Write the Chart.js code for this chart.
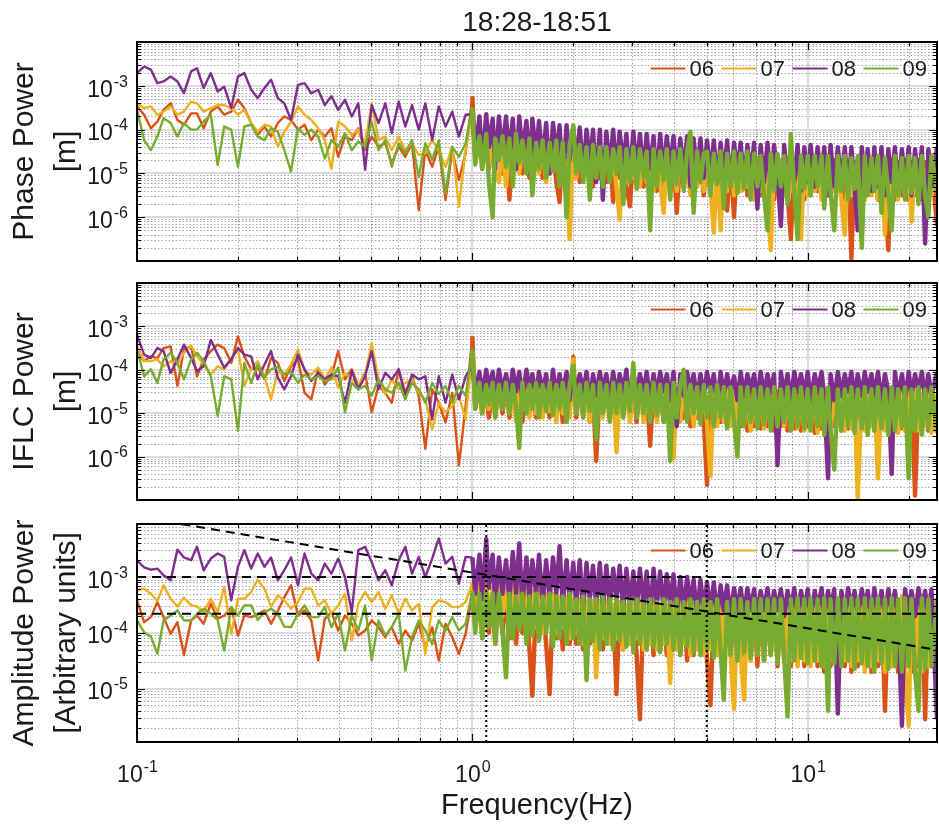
<!DOCTYPE html>
<html>
<head>
<meta charset="utf-8">
<script src="https://cdn.jsdelivr.net/npm/chart.js@4.4.1/dist/chart.umd.min.js"></script>
<style>
  html, body { margin: 0; padding: 0; background: #fff; }
  #wrap { position: relative; width: 939px; height: 829px; }
  canvas { position: absolute; left: 0; display: block; }
</style>
</head>
<body>
<div id="wrap">
  <canvas id="phaseChart" width="939" height="270" style="top:0"></canvas>
  <canvas id="iflcChart" width="939" height="240" style="top:270px"></canvas>
  <canvas id="ampChart" width="939" height="319" style="top:510px"></canvas>
</div>
<script>
const FONT = "'Liberation Sans', Arial, Helvetica, sans-serif"
const INK = "#1a1a1a"

const stations = ["06", "07", "08", "09"]
const stationColors = ["#D95319", "#EDB120", "#7E2F8E", "#77AC30"]

// frequency axis (Hz)
const freqHz = [
  0.1, 0.105, 0.11, 0.115, 0.12, 0.126, 0.132, 0.138, 0.145, 0.151,
  0.158, 0.166, 0.174, 0.182, 0.191, 0.2, 0.209, 0.219, 0.229, 0.24,
  0.251, 0.263, 0.275, 0.288, 0.302, 0.316, 0.331, 0.347, 0.363, 0.38,
  0.398, 0.417, 0.437, 0.457, 0.479, 0.501, 0.525, 0.55, 0.575, 0.603,
  0.631, 0.661, 0.692, 0.724, 0.759, 0.794, 0.832, 0.871, 0.912, 0.955,
  1, 1.02, 1.05, 1.07, 1.1, 1.12, 1.15, 1.17, 1.2, 1.23,
  1.26, 1.29, 1.32, 1.35, 1.38, 1.41, 1.45, 1.48, 1.51, 1.55,
  1.58, 1.62, 1.66, 1.7, 1.74, 1.78, 1.82, 1.86, 1.91, 1.95,
  2, 2.04, 2.09, 2.14, 2.19, 2.24, 2.29, 2.34, 2.4, 2.45,
  2.51, 2.57, 2.63, 2.69, 2.75, 2.82, 2.88, 2.95, 3.02, 3.09,
  3.16, 3.24, 3.31, 3.39, 3.47, 3.55, 3.63, 3.72, 3.8, 3.89,
  3.98, 4.07, 4.17, 4.27, 4.37, 4.47, 4.57, 4.68, 4.79, 4.9,
  5.01, 5.13, 5.25, 5.37, 5.5, 5.62, 5.75, 5.89, 6.03, 6.17,
  6.31, 6.46, 6.61, 6.76, 6.92, 7.08, 7.24, 7.41, 7.59, 7.76,
  7.94, 8.13, 8.32, 8.51, 8.71, 8.91, 9.12, 9.33, 9.55, 9.77,
  10, 10.2, 10.5, 10.7, 11, 11.2, 11.5, 11.7, 12, 12.3,
  12.6, 12.9, 13.2, 13.5, 13.8, 14.1, 14.5, 14.8, 15.1, 15.5,
  15.8, 16.2, 16.6, 17, 17.4, 17.8, 18.2, 18.6, 19.1, 19.5,
  20, 20.4, 20.9, 21.4, 21.9, 22.4, 22.9, 23.4, 24.3
]

// all power values below are log10(power)

// --- Phase power [m]
const phase06 = [
  -3.47, -3.66, -3.97, -3.82, -3.55, -3.4, -3.78, -3.89, -3.63, -3.63,
  -3.97, -3.59, -3.47, -3.66, -3.59, -3.32, -3.51, -3.85, -4.12, -3.93,
  -4.16, -3.85, -3.7, -3.78, -4.0, -3.89, -4.24, -4.0, -4.16, -3.97,
  -4.62, -4.16, -4.24, -3.97, -4.47, -4.16, -4.39, -4.31, -4.77, -4.39,
  -4.62, -4.31, -5.84, -4.47, -4.85, -4.39, -5.61, -4.47, -5.15, -4.54,
  -3.24, -4.6, -4.2, -4.8, -4.25, -4.9, -4.2, -4.7, -4.3, -5.0,
  -4.3, -5.6, -4.3, -4.9, -4.35, -5.0, -4.3, -5.1, -4.35, -4.9,
  -4.4, -5.1, -4.35, -5.0, -4.4, -5.2, -5.65, -4.4, -5.0, -4.45,
  -5.1, -4.45, -5.2, -4.5, -5.0, -4.45, -5.3, -4.5, -5.1, -4.5,
  -5.2, -4.5, -5.65, -4.55, -5.1, -4.5, -5.3, -5.75, -4.55, -5.2,
  -4.55, -5.3, -4.6, -5.2, -4.55, -5.4, -4.6, -5.3, -4.6, -5.2,
  -4.6, -5.9, -4.6, -5.3, -4.65, -5.4, -4.6, -5.3, -4.65, -5.5,
  -4.6, -5.4, -4.65, -5.3, -4.6, -5.5, -5.85, -4.65, -6.0, -4.6,
  -5.4, -4.65, -5.5, -4.7, -5.3, -4.65, -5.5, -4.7, -5.4, -4.65,
  -5.6, -4.7, -5.4, -4.7, -5.5, -6.5, -4.7, -5.4, -4.7, -5.6,
  -4.7, -5.5, -4.75, -5.4, -4.7, -5.6, -4.75, -5.5, -4.7, -5.4,
  -4.75, -5.6, -4.7, -6.95, -4.75, -5.5, -4.7, -5.6, -4.75, -5.4,
  -4.7, -5.6, -4.75, -5.5, -6.75, -4.7, -5.6, -4.75, -5.5, -4.7,
  -5.6, -4.75, -5.5, -4.7, -5.6, -4.75, -5.4, -4.7, -6.2
]
const phase07 = [
  -3.4, -3.51, -3.47, -3.66, -3.59, -3.47, -3.66, -3.59, -3.36, -3.4,
  -3.59, -3.51, -3.44, -3.44, -3.51, -3.66, -3.55, -3.85, -4.05, -3.89,
  -3.93, -4.39, -4.05, -3.82, -3.47, -3.66, -3.78, -3.97, -4.24, -4.9,
  -3.82, -3.93, -4.12, -4.0, -4.31, -3.4, -4.24, -4.16, -4.47, -4.16,
  -4.47, -4.31, -4.58, -4.54, -4.24, -4.47, -4.85, -4.39, -5.76, -4.47,
  -3.6, -4.7, -4.2, -4.9, -4.25, -4.8, -4.2, -5.0, -5.2, -4.3,
  -5.3, -4.25, -4.9, -4.3, -5.0, -4.3, -4.9, -4.35, -5.1, -4.4,
  -5.0, -4.35, -5.2, -4.4, -4.95, -4.4, -5.1, -4.45, -5.0, -6.5,
  -4.1, -5.1, -4.45, -5.0, -4.5, -5.3, -4.45, -5.1, -4.5, -5.2,
  -4.5, -5.1, -4.55, -5.3, -6.05, -4.5, -5.2, -4.55, -5.1, -4.5,
  -5.3, -4.55, -5.2, -4.6, -5.4, -4.55, -5.2, -5.9, -4.6, -5.3,
  -4.6, -5.4, -4.55, -5.2, -4.6, -5.5, -4.6, -5.3, -4.6, -5.4,
  -4.6, -5.3, -6.35, -4.65, -6.3, -4.6, -5.4, -4.65, -5.5, -4.6,
  -5.4, -4.65, -5.3, -4.6, -5.6, -4.65, -5.4, -4.65, -5.5, -6.75,
  -4.65, -5.4, -4.7, -5.5, -4.65, -5.4, -4.7, -5.6, -6.5, -4.7,
  -5.5, -4.7, -5.4, -4.7, -5.6, -4.7, -5.5, -4.7, -5.4, -4.75,
  -5.6, -6.4, -4.7, -5.5, -4.75, -5.4, -4.7, -5.6, -4.75, -5.5,
  -4.7, -5.6, -4.75, -6.4, -4.7, -5.5, -4.75, -5.6, -4.7, -5.5,
  -4.75, -6.1, -4.7, -5.5, -4.75, -5.6, -4.7, -5.5, -4.75
]
const phase08 = [
  -2.71, -2.56, -2.63, -2.94, -2.9, -2.79, -2.9, -3.17, -2.67, -2.6,
  -3.05, -2.71, -3.13, -3.02, -3.51, -2.79, -2.71, -3.09, -3.28, -3.05,
  -2.86, -3.28, -3.4, -3.78, -2.98, -2.94, -3.17, -3.09, -3.44, -3.24,
  -3.55, -3.32, -3.7, -3.4, -4.92, -3.44, -3.85, -3.4, -4.08, -3.36,
  -3.93, -3.44, -4.0, -3.4, -4.24, -3.47, -3.93, -3.59, -4.16, -3.66,
  -3.65, -4.5, -3.7, -4.8, -3.65, -4.4, -3.75, -4.9, -3.7, -4.5,
  -3.7, -4.6, -3.75, -4.9, -3.7, -4.5, -3.8, -5.0, -3.75, -4.6,
  -3.8, -4.7, -3.85, -5.0, -3.85, -4.6, -3.9, -5.1, -3.9, -4.7,
  -3.95, -4.8, -3.95, -5.0, -4.0, -4.8, -4.0, -5.2, -4.0, -5.6,
  -4.05, -4.9, -4.0, -5.0, -4.05, -4.8, -4.1, -5.1, -4.05, -4.9,
  -4.1, -5.0, -4.1, -4.9, -4.15, -5.2, -4.1, -5.0, -4.15, -4.9,
  -4.15, -5.1, -4.2, -5.0, -4.15, -5.3, -4.2, -5.0, -4.2, -5.1,
  -4.25, -5.0, -4.25, -5.2, -4.3, -5.1, -4.25, -5.3, -4.3, -5.0,
  -4.3, -5.2, -4.35, -5.1, -4.3, -5.8, -4.35, -5.2, -4.3, -5.3,
  -4.35, -5.1, -6.2, -4.35, -5.3, -4.4, -5.2, -4.35, -5.4, -4.4,
  -5.2, -4.35, -5.3, -4.4, -5.1, -4.4, -5.5, -4.35, -5.3, -4.4,
  -5.2, -4.4, -5.4, -4.4, -5.3, -6.3, -4.4, -5.2, -4.45, -5.4,
  -4.4, -5.3, -4.4, -5.5, -4.45, -5.2, -4.4, -5.4, -4.45, -5.3,
  -4.4, -5.5, -4.45, -5.3, -4.4, -6.6, -4.45, -5.3, -4.4
]
const phase09 = [
  -3.55, -4.24, -4.47, -4.16, -3.74, -3.85, -4.16, -3.85, -4.0, -4.0,
  -3.82, -3.66, -4.81, -3.93, -4.0, -4.85, -3.93, -3.89, -4.16, -4.24,
  -3.97, -4.05, -4.47, -4.96, -3.97, -4.12, -4.0, -4.16, -4.66, -4.24,
  -4.39, -4.08, -4.47, -4.27, -4.39, -3.82, -4.47, -4.24, -4.85, -4.31,
  -4.54, -4.24, -5.08, -4.31, -4.69, -4.24, -5.46, -4.39, -4.62, -4.31,
  -3.5, -4.8, -4.15, -4.9, -4.1, -5.2, -6.0, -4.2, -4.7, -4.15,
  -4.85, -4.2, -5.3, -4.1, -4.75, -4.25, -5.0, -4.2, -5.5, -4.3,
  -4.9, -4.25, -5.1, -4.3, -4.95, -4.25, -5.3, -4.3, -6.0, -4.35,
  -3.9, -5.0, -4.35, -5.2, -4.4, -5.6, -4.35, -5.1, -4.4, -5.3,
  -4.4, -5.2, -4.45, -5.0, -4.4, -5.7, -4.45, -5.2, -4.4, -5.35,
  -4.45, -5.1, -4.5, -6.3, -4.45, -5.3, -4.5, -5.15, -4.45, -5.6,
  -4.5, -5.25, -4.45, -5.4, -4.5, -4.05, -5.9, -4.5, -5.2, -4.55,
  -4.5, -5.5, -4.55, -5.25, -4.5, -5.8, -4.55, -5.3, -4.5, -5.45,
  -4.55, -5.35, -4.5, -5.6, -4.55, -5.3, -4.6, -5.5, -6.3, -4.55,
  -5.4, -4.55, -5.3, -4.6, -5.7, -4.1, -5.4, -6.5, -4.6, -5.35,
  -4.6, -5.5, -4.6, -5.3, -4.6, -5.8, -4.6, -5.45, -6.3, -4.6,
  -5.4, -4.6, -5.6, -4.65, -5.35, -4.6, -6.7, -4.6, -5.5, -4.65,
  -5.4, -4.6, -5.9, -4.65, -5.45, -6.3, -4.6, -5.5, -4.65, -5.6,
  -4.6, -5.45, -4.65, -5.7, -4.6, -5.5, -6.0, -4.6, -5.4
]

// --- IFLC power [m]
const iflc06 = [
  -3.61, -3.8, -3.69, -3.73, -3.5, -3.46, -4.37, -3.53, -3.46, -4.15,
  -3.76, -3.57, -3.42, -3.5, -3.84, -3.23, -3.69, -3.99, -3.95, -4.22,
  -3.73, -3.84, -4.26, -3.92, -3.76, -4.53, -4.68, -3.99, -4.34, -4.15,
  -3.57, -4.22, -3.99, -4.37, -4.07, -4.98, -4.37, -4.53, -4.76, -3.99,
  -4.53, -4.15, -4.6, -5.82, -4.45, -4.76, -5.21, -4.53, -6.2, -4.83,
  -3.23, -4.9, -4.4, -5.0, -4.45, -5.1, -4.4, -4.9, -4.45, -5.0,
  -4.4, -5.1, -4.45, -4.9, -4.4, -5.2, -4.45, -5.0, -4.4, -5.1,
  -4.45, -4.95, -4.4, -5.1, -4.45, -5.0, -4.4, -5.2, -4.45, -5.0,
  -3.7, -5.1, -4.45, -5.0, -4.4, -5.2, -4.45, -6.1, -4.4, -5.0,
  -4.45, -5.1, -4.4, -5.2, -4.45, -5.0, -4.4, -5.1, -4.45, -5.2,
  -4.4, -5.0, -4.45, -5.75, -4.4, -5.1, -4.45, -5.2, -4.4, -5.1,
  -4.45, -5.2, -4.4, -5.1, -4.45, -5.3, -4.45, -5.1, -4.5, -5.2,
  -6.65, -4.45, -5.3, -4.5, -5.2, -4.45, -5.3, -4.5, -5.2, -4.5,
  -5.3, -4.5, -5.4, -4.55, -5.3, -4.5, -5.35, -4.5, -5.3, -4.55,
  -5.4, -4.5, -5.3, -4.55, -5.4, -4.5, -5.35, -4.55, -5.4, -4.5,
  -5.3, -4.55, -5.45, -4.5, -5.35, -4.55, -5.4, -4.5, -5.3, -4.55,
  -5.4, -4.5, -5.35, -4.55, -5.4, -4.5, -5.3, -4.55, -5.45, -4.5,
  -5.4, -4.55, -5.35, -4.5, -5.45, -4.55, -5.4, -4.5, -5.35, -4.55,
  -5.4, -4.5, -6.9, -4.55, -5.35, -4.5, -5.4, -4.55, -5.3
]
const iflc07 = [
  -3.46, -3.8, -3.8, -3.76, -3.92, -3.8, -3.88, -3.61, -3.44, -3.69,
  -3.88, -4.11, -3.92, -3.99, -3.73, -3.53, -4.37, -3.99, -3.8, -4.15,
  -4.68, -4.03, -4.11, -3.88, -3.53, -4.03, -4.11, -3.95, -4.22, -3.95,
  -4.41, -4.07, -4.22, -4.34, -4.11, -3.38, -4.22, -4.56, -4.22, -4.45,
  -4.3, -4.22, -4.53, -4.68, -5.37, -4.76, -4.98, -4.83, -4.6, -5.14,
  -3.6, -4.8, -4.4, -5.0, -4.45, -4.9, -4.4, -5.1, -4.45, -4.9,
  -4.4, -5.0, -4.45, -5.2, -4.4, -4.9, -4.45, -5.1, -4.4, -5.0,
  -4.45, -5.1, -4.4, -4.95, -4.45, -5.2, -4.4, -5.0, -4.45, -5.1,
  -3.76, -5.0, -4.45, -5.1, -4.4, -5.2, -4.45, -5.0, -4.4, -5.1,
  -4.45, -5.0, -4.4, -5.9, -4.45, -5.1, -4.4, -5.2, -4.45, -5.0,
  -4.4, -5.2, -4.45, -5.1, -4.4, -5.2, -4.45, -5.0, -4.4, -5.1,
  -6.05, -4.45, -5.2, -4.4, -5.1, -4.45, -5.3, -4.45, -5.1, -4.5,
  -5.2, -6.45, -4.45, -5.3, -4.5, -5.2, -4.45, -5.3, -4.5, -5.2,
  -4.5, -5.3, -4.5, -5.4, -4.55, -5.3, -4.5, -5.35, -4.5, -5.3,
  -4.55, -5.4, -4.5, -5.3, -4.55, -5.4, -4.5, -5.35, -4.55, -5.4,
  -4.5, -5.3, -4.55, -5.45, -4.5, -5.35, -4.55, -5.4, -4.5, -5.3,
  -4.55, -5.4, -4.5, -5.35, -4.55, -6.97, -4.5, -5.4, -4.55, -5.3,
  -4.5, -6.5, -4.55, -5.4, -4.5, -5.35, -4.55, -5.45, -4.5, -5.4,
  -4.55, -5.35, -4.5, -5.4, -4.55, -5.3, -4.5, -5.45, -4.55
]
const iflc08 = [
  -3.19, -3.65, -3.73, -3.5, -3.57, -4.07, -3.76, -3.42, -3.73, -4.03,
  -3.92, -3.31, -3.65, -3.95, -3.76, -3.5, -3.65, -3.69, -4.22, -3.88,
  -3.57, -4.18, -4.45, -4.15, -3.65, -3.99, -4.26, -4.07, -4.22, -4.11,
  -4.15, -4.76, -4.03, -4.45, -4.15, -3.57, -4.45, -4.07, -4.22, -3.99,
  -4.6, -4.11, -4.22, -4.15, -5.14, -4.15, -4.76, -4.11, -4.68, -4.15,
  -3.9, -4.5, -4.05, -4.6, -4.0, -4.4, -4.05, -4.7, -4.0, -4.5,
  -4.1, -4.6, -4.0, -4.5, -4.05, -4.7, -4.0, -4.5, -4.1, -4.6,
  -4.05, -4.5, -4.1, -4.7, -4.0, -4.6, -4.1, -4.5, -4.05, -4.7,
  -4.0, -4.6, -4.1, -4.5, -4.05, -4.8, -4.1, -4.6, -4.05, -4.5,
  -4.1, -4.7, -4.05, -4.6, -4.1, -4.5, -4.0, -4.8, -4.05, -4.6,
  -4.1, -4.5, -4.05, -4.7, -4.1, -4.6, -4.05, -4.5, -4.1, -4.7,
  -4.05, -5.3, -4.1, -4.6, -4.05, -4.5, -4.1, -4.7, -4.1, -4.6,
  -4.05, -4.5, -4.1, -4.8, -4.05, -4.6, -4.1, -4.5, -4.15, -4.7,
  -4.05, -4.6, -4.1, -4.5, -4.1, -4.7, -4.05, -4.6, -4.1, -4.5,
  -4.1, -6.2, -4.05, -4.6, -4.1, -4.7, -4.05, -4.5, -4.1, -4.6,
  -4.05, -4.7, -4.1, -4.5, -4.05, -4.6, -6.5, -4.1, -4.7, -4.05,
  -4.6, -4.1, -4.5, -4.05, -4.7, -4.1, -4.6, -4.05, -4.5, -4.1,
  -4.6, -4.05, -4.7, -4.1, -4.5, -6.4, -4.05, -4.6, -4.1, -4.7,
  -4.05, -4.6, -4.1, -4.5, -4.05, -4.7, -4.1, -4.6, -4.05
]
const iflc09 = [
  -3.53, -4.15, -3.99, -4.3, -3.76, -3.61, -3.84, -4.22, -3.76, -3.61,
  -3.8, -4.15, -5.06, -4.15, -4.22, -5.4, -3.84, -4.3, -3.88, -4.18,
  -3.99, -3.93, -4.11, -4.05, -4.3, -4.11, -4.22, -4.15, -4.26, -4.22,
  -3.95, -4.98, -4.3, -4.45, -4.37, -4.6, -4.22, -4.45, -4.53, -4.3,
  -4.68, -4.3, -4.45, -4.76, -4.3, -4.56, -4.37, -4.76, -4.37, -4.6,
  -3.53, -4.9, -4.3, -5.0, -4.35, -4.8, -4.3, -5.1, -4.35, -4.9,
  -4.3, -5.0, -4.35, -4.85, -5.8, -4.3, -5.0, -4.35, -4.9, -4.3,
  -5.1, -4.35, -4.95, -4.3, -5.05, -4.35, -4.9, -4.3, -5.2, -4.35,
  -3.9, -5.0, -4.35, -5.1, -4.3, -4.95, -4.35, -5.6, -4.3, -5.0,
  -4.35, -5.2, -4.3, -5.0, -4.35, -5.1, -4.3, -4.95, -3.85, -5.1,
  -4.35, -5.0, -4.35, -5.2, -4.3, -5.05, -4.35, -5.2, -4.35, -6.1,
  -4.3, -5.1, -4.35, -4.0, -5.2, -4.35, -5.0, -4.4, -5.25, -4.35,
  -5.1, -4.4, -5.3, -4.35, -5.1, -4.4, -5.35, -4.4, -5.2, -6.0,
  -4.4, -5.3, -4.4, -5.2, -4.45, -5.35, -4.4, -5.25, -4.45, -5.4,
  -4.4, -5.3, -4.45, -5.2, -4.4, -5.4, -4.45, -5.3, -4.4, -5.35,
  -4.45, -5.4, -4.4, -5.3, -4.45, -5.5, -4.4, -5.35, -6.3, -4.45,
  -5.4, -4.45, -5.3, -4.4, -5.45, -4.45, -5.35, -4.4, -5.5, -4.45,
  -5.4, -4.4, -5.35, -4.45, -5.5, -4.4, -5.4, -4.45, -5.3, -4.4,
  -6.5, -4.45, -5.4, -4.4, -5.5, -4.45, -5.35, -4.4, -5.45
]

// --- Amplitude power [arbitrary units]
const amp06 = [
  -3.42, -3.81, -3.72, -3.45, -3.72, -4.02, -3.81, -4.4, -3.78, -3.69,
  -3.84, -3.48, -3.75, -3.69, -3.55, -4.05, -3.69, -3.72, -3.67, -3.6,
  -3.84, -3.61, -3.36, -3.15, -3.69, -3.6, -3.78, -4.5, -3.75, -3.63,
  -3.96, -3.69, -3.84, -4.05, -3.96, -3.78, -3.9, -4.08, -3.9, -4.2,
  -3.96, -4.14, -3.84, -4.26, -3.9, -4.5, -3.84, -4.08, -4.38, -4.02,
  -3.3, -3.9, -3.35, -4.1, -3.3, -4.0, -3.35, -4.2, -3.3, -4.0,
  -3.35, -4.1, -3.3, -4.2, -3.35, -4.0, -3.4, -4.3, -5.13, -3.4,
  -4.1, -3.4, -4.2, -5.1, -3.4, -4.1, -3.45, -4.3, -3.4, -4.2,
  -3.45, -4.2, -3.5, -4.3, -3.45, -4.2, -3.5, -4.4, -3.45, -4.3,
  -3.5, -4.2, -3.5, -5.1, -3.5, -4.3, -3.55, -4.2, -3.5, -4.4,
  -5.55, -3.5, -4.3, -3.55, -4.4, -3.5, -4.3, -3.55, -4.4, -3.5,
  -4.3, -3.55, -4.4, -3.5, -4.5, -3.55, -4.4, -3.5, -4.3, -3.55,
  -4.5, -5.3, -3.5, -4.4, -3.55, -4.5, -3.5, -4.4, -3.55, -4.5,
  -3.5, -4.4, -3.45, -4.5, -3.5, -4.6, -3.45, -4.5, -3.5, -4.4,
  -3.45, -4.6, -3.5, -4.5, -3.45, -4.6, -3.5, -4.5, -3.45, -4.6,
  -3.5, -4.5, -3.45, -4.6, -3.5, -4.7, -3.45, -4.6, -3.5, -4.5,
  -3.45, -4.6, -3.5, -4.7, -3.45, -4.6, -3.5, -4.5, -3.45, -4.7,
  -3.5, -4.6, -3.45, -5.4, -3.5, -4.6, -3.45, -4.7, -3.5, -4.6,
  -3.45, -4.7, -3.5, -4.6, -3.45, -5.55, -3.5, -4.6, -3.45
]
const amp07 = [
  -3.24, -3.21, -3.3, -3.43, -3.15, -3.39, -3.53, -3.37, -3.51, -3.53,
  -3.63, -3.39, -3.63, -3.18, -4.02, -3.39, -3.39, -3.27, -3.05, -3.21,
  -3.53, -3.33, -3.42, -3.57, -3.45, -3.21, -3.21, -3.51, -3.42, -3.66,
  -3.51, -3.3, -4.14, -3.48, -3.27, -3.45, -3.27, -3.57, -3.33, -3.66,
  -3.39, -3.6, -3.48, -4.38, -3.54, -3.42, -3.45, -3.54, -3.54, -3.45,
  -3.1, -3.6, -3.15, -3.9, -3.1, -3.7, -3.2, -3.8, -3.15, -3.7,
  -3.2, -3.9, -3.15, -3.7, -3.12, -3.8, -3.2, -3.7, -3.25, -3.9,
  -3.25, -4.0, -3.3, -3.8, -3.3, -4.0, -3.35, -3.9, -3.35, -4.1,
  -3.4, -4.0, -3.4, -4.2, -3.45, -4.0, -3.45, -4.8, -3.45, -4.1,
  -3.45, -4.2, -3.5, -4.1, -3.45, -4.3, -3.5, -4.2, -3.5, -4.1,
  -3.45, -4.3, -3.5, -4.2, -3.45, -4.3, -3.5, -4.2, -3.5, -4.9,
  -3.45, -4.3, -3.5, -4.2, -3.45, -4.4, -3.5, -4.3, -3.45, -4.4,
  -3.45, -4.3, -3.4, -4.4, -3.45, -4.3, -3.4, -4.4, -5.37, -3.45,
  -4.4, -5.2, -3.4, -4.5, -3.35, -4.4, -3.4, -4.5, -3.35, -4.4,
  -3.4, -4.5, -3.35, -4.4, -3.4, -4.5, -3.35, -4.6, -3.4, -4.5,
  -3.35, -4.6, -3.4, -4.5, -3.35, -4.6, -3.4, -4.5, -3.35, -4.6,
  -3.4, -4.5, -3.35, -4.6, -3.4, -4.5, -3.35, -4.7, -3.4, -4.6,
  -3.35, -4.5, -3.4, -4.7, -3.35, -4.6, -3.4, -4.5, -3.35, -4.7,
  -5.67, -3.4, -4.6, -3.35, -4.7, -3.4, -4.6, -3.35, -4.5
]
const amp08 = [
  -2.7, -2.83, -2.87, -2.85, -2.97, -3.06, -2.51, -2.65, -2.7, -2.46,
  -2.88, -2.67, -2.58, -2.64, -3.42, -2.82, -2.52, -2.85, -2.58, -2.82,
  -2.65, -3.06, -2.88, -2.65, -3.15, -2.58, -2.94, -3.06, -2.76, -2.94,
  -2.67, -3.0, -3.63, -2.52, -2.46, -2.73, -3.06, -2.88, -3.15, -2.7,
  -2.46, -2.94, -2.64, -3.0, -2.67, -2.31, -2.76, -2.64, -3.12, -2.64,
  -2.65, -3.3, -2.6, -3.4, -2.32, -3.2, -2.6, -3.5, -2.65, -3.3,
  -2.7, -3.4, -2.55, -3.3, -2.4, -3.5, -2.65, -3.4, -2.7, -3.3,
  -2.6, -3.5, -2.7, -3.4, -2.65, -3.3, -2.45, -3.5, -2.7, -3.4,
  -2.75, -3.5, -2.7, -3.6, -2.75, -3.4, -2.8, -3.5, -2.75, -3.6,
  -2.8, -3.5, -2.85, -3.4, -2.8, -3.6, -2.85, -3.5, -2.9, -3.6,
  -2.85, -3.5, -2.9, -3.7, -2.85, -3.5, -2.9, -3.6, -2.95, -3.5,
  -2.95, -3.7, -3.0, -3.6, -3.0, -3.5, -3.05, -3.7, -3.05, -3.6,
  -3.1, -3.6, -3.1, -3.7, -3.15, -3.6, -3.15, -3.7, -3.2, -3.6,
  -3.2, -3.7, -3.2, -3.6, -3.22, -3.7, -3.25, -3.6, -3.2, -3.7,
  -3.25, -3.6, -3.22, -3.7, -3.25, -3.6, -3.2, -3.7, -3.25, -3.6,
  -3.22, -3.7, -3.25, -3.6, -3.2, -3.7, -3.25, -3.6, -3.22, -5.45,
  -3.25, -3.7, -3.2, -3.6, -3.25, -3.7, -3.22, -3.6, -3.25, -3.7,
  -3.2, -3.6, -3.25, -3.7, -3.22, -3.6, -3.25, -3.7, -5.67, -3.22,
  -3.6, -3.25, -3.7, -3.2, -3.6, -3.25, -3.7, -3.22, -5.55
]
const amp09 = [
  -3.78, -3.99, -4.07, -4.38, -3.78, -3.69, -3.6, -3.78, -3.78, -3.66,
  -3.57, -3.66, -3.77, -4.32, -3.54, -3.69, -3.51, -3.51, -3.77, -3.63,
  -3.57, -3.66, -3.89, -3.9, -3.66, -3.51, -3.72, -3.72, -3.54, -3.9,
  -3.66, -4.32, -3.69, -3.96, -3.51, -4.5, -3.78, -4.05, -3.9, -3.66,
  -4.68, -4.08, -3.78, -3.96, -4.2, -3.78, -3.96, -3.72, -3.96, -3.84,
  -3.25, -4.0, -3.3, -4.1, -3.25, -3.9, -3.3, -4.2, -3.3, -4.0,
  -4.8, -3.3, -4.1, -3.35, -3.95, -3.3, -4.2, -3.35, -4.05, -3.3,
  -4.15, -3.35, -4.0, -3.3, -4.25, -3.35, -4.1, -3.35, -4.2, -3.3,
  -4.1, -3.4, -4.2, -3.35, -4.85, -3.4, -4.15, -3.4, -4.3, -3.35,
  -4.2, -3.4, -4.3, -3.4, -4.15, -3.45, -4.25, -3.4, -4.35, -3.4,
  -4.2, -3.45, -4.3, -3.4, -4.25, -3.45, -4.35, -3.4, -4.2, -3.45,
  -4.3, -3.4, -4.4, -3.45, -4.25, -3.4, -4.35, -3.45, -4.4, -3.4,
  -4.3, -3.45, -4.45, -3.4, -4.35, -5.2, -3.45, -4.4, -3.4, -4.5,
  -3.4, -4.35, -3.45, -4.45, -3.4, -4.4, -3.4, -4.5, -3.4, -4.4,
  -3.4, -4.55, -3.4, -4.45, -5.5, -3.4, -4.5, -3.38, -4.45, -3.4,
  -4.55, -3.38, -4.5, -3.4, -4.6, -3.38, -5.4, -3.4, -4.55, -3.38,
  -4.6, -3.4, -4.5, -3.38, -4.65, -3.4, -4.55, -3.38, -4.6, -3.4,
  -4.7, -3.38, -4.55, -3.4, -4.65, -3.38, -4.6, -3.4, -4.7, -3.38,
  -4.6, -3.4, -4.7, -5.4, -3.38, -4.65, -3.4, -4.6, -3.38
]

// reference lines in the amplitude panel
const refSpanHz = [0.1, 24.3]
const refUpperLevel = [1e-3, 1e-3]
const refLowerLevel = [2.2e-4, 2.2e-4]
const refSlopePower = [1.2e-2, 4.94e-5]
const cornerHz = [1.1, 5]

// axis ranges and tick labels (exponents of ten)
const freqRange = [0.1, 24.3]
const phaseRange = [1e-7, 1e-2]
const iflcRange = [1e-7, 1e-2]
const ampRange = [1.1e-6, 8.9e-3]
const xTickExp = [-1, 0, 1]
const phaseTickExp = [-3, -4, -5, -6]
const iflcTickExp = [-3, -4, -5, -6]
const ampTickExp = [-3, -4, -5]

function spectrum(logPower) {
  if (logPower.length !== freqHz.length) console.warn("length mismatch", logPower.length)
  return logPower.map((p, i) => ({ x: freqHz[i], y: Math.pow(10, p) }))
}

function stationSets(series) {
  return series.map((s, i) => ({
    label: stations[i],
    data: spectrum(s),
    borderColor: stationColors[i],
    borderWidth: 2.4,
    borderJoinStyle: "round",
    pointRadius: 0,
    tension: 0,
    clip: 0,
    order: 4 - i,
    // the dense part of the spectrum is drawn heavier so it reads as a band
    segment: { borderWidth: (c) => (c.p0.parsed.x >= 1 ? 4.4 : 2.4) }
  }))
}

function refLine(xs, ys, dash) {
  return {
    label: "",
    data: xs.map((x, i) => ({ x, y: ys[i] })),
    borderColor: "#000",
    borderWidth: 2,
    borderDash: dash,
    pointRadius: 0,
    tension: 0,
    clip: 0,
    order: 0
  }
}

function logSteps(min, max, major) {
  const out = []
  for (let e = Math.floor(Math.log10(min)) - 1; e <= Math.ceil(Math.log10(max)); e++) {
    const from = major ? 1 : 2
    const to = major ? 1 : 9
    for (let m = from; m <= to; m++) {
      const v = m * Math.pow(10, e)
      if (v > min * 1.001 && v < max * 0.999) out.push(v)
    }
  }
  return out
}

function crisp(p) {
  return Math.round(p) + 0.5
}

function drawPowerLabel(ctx, exp, x, y, align) {
  const base = "10"
  const sup = String(exp)
  ctx.font = `23px ${FONT}`
  const bw = ctx.measureText(base).width
  ctx.font = `16px ${FONT}`
  const sw = ctx.measureText(sup).width
  let left
  if (align === "right") left = x - sw - bw - 1
  else left = x - (bw + sw) / 2
  ctx.fillStyle = INK
  ctx.textAlign = "left"
  ctx.textBaseline = "alphabetic"
  ctx.font = `23px ${FONT}`
  ctx.fillText(base, left, y)
  ctx.font = `16px ${FONT}`
  ctx.fillText(sup, left + bw + 1, y - 10)
}

const decor = {
  id: "decor",
  beforeDatasetsDraw(chart) {
    const { ctx, chartArea: a, scales } = chart
    const xs = scales.x
    const ys = scales.y
    ctx.save()
    ctx.beginPath()
    ctx.rect(a.left, a.top, a.right - a.left, a.bottom - a.top)
    ctx.clip()
    ctx.lineWidth = 1
    ctx.strokeStyle = "rgba(38,38,38,0.42)"
    ctx.setLineDash([1.5, 2])
    ctx.beginPath()
    logSteps(xs.min, xs.max, false).forEach((v) => {
      const px = crisp(xs.getPixelForValue(v))
      ctx.moveTo(px, a.top); ctx.lineTo(px, a.bottom)
    })
    logSteps(ys.min, ys.max, false).forEach((v) => {
      const py = crisp(ys.getPixelForValue(v))
      ctx.moveTo(a.left, py); ctx.lineTo(a.right, py)
    })
    ctx.stroke()
    ctx.setLineDash([])
    ctx.lineWidth = 2
    ctx.strokeStyle = "rgba(38,38,38,0.16)"
    ctx.beginPath()
    logSteps(xs.min, xs.max, true).forEach((v) => {
      const px = Math.round(xs.getPixelForValue(v))
      ctx.moveTo(px, a.top); ctx.lineTo(px, a.bottom)
    })
    logSteps(ys.min, ys.max, true).forEach((v) => {
      const py = Math.round(ys.getPixelForValue(v))
      ctx.moveTo(a.left, py); ctx.lineTo(a.right, py)
    })
    ctx.stroke()
    ctx.restore()
  },
  afterDatasetsDraw(chart, args, opts) {
    const { ctx, chartArea: a, scales } = chart
    const xs = scales.x
    const ys = scales.y
    ctx.save()
    // inward tick marks on all four sides
    ctx.strokeStyle = "#000"
    ctx.lineWidth = 1.2
    ctx.beginPath()
    ;[true, false].forEach((major) => {
      const len = major ? 8 : 4
      logSteps(xs.min, xs.max, major).forEach((v) => {
        const px = crisp(xs.getPixelForValue(v))
        ctx.moveTo(px, a.bottom); ctx.lineTo(px, a.bottom - len)
        ctx.moveTo(px, a.top); ctx.lineTo(px, a.top + len)
      })
      logSteps(ys.min, ys.max, major).forEach((v) => {
        const py = crisp(ys.getPixelForValue(v))
        ctx.moveTo(a.left, py); ctx.lineTo(a.left + len, py)
        ctx.moveTo(a.right, py); ctx.lineTo(a.right - len, py)
      })
    })
    ctx.stroke()
    // box
    ctx.lineWidth = 2
    ctx.strokeRect(a.left, a.top, a.right - a.left, a.bottom - a.top)

    // y tick labels
    opts.yExp.forEach((e) => {
      const py = ys.getPixelForValue(Math.pow(10, e))
      drawPowerLabel(ctx, e, a.left - 9, py + 10.7, "right")
    })
    // x tick labels
    if (opts.xExp) {
      opts.xExp.forEach((e) => {
        const px = xs.getPixelForValue(Math.pow(10, e))
        drawPowerLabel(ctx, e, px, a.bottom + 39.7, "center")
      })
    }

    // legend, top right inside the axes
    ctx.font = `22px ${FONT}`
    const lineLen = 35
    const widths = stations.map((s) => ctx.measureText(s).width)
    let total = 0
    widths.forEach((w, i) => { total += lineLen + 4 + w + (i < widths.length - 1 ? 7.5 : 0) })
    let x = a.right - 10 - total
    const y = a.top + 26.5
    ctx.textAlign = "left"
    ctx.textBaseline = "middle"
    stations.forEach((s, i) => {
      ctx.strokeStyle = stationColors[i]
      ctx.lineWidth = 2
      ctx.beginPath()
      ctx.moveTo(x, y); ctx.lineTo(x + lineLen, y)
      ctx.stroke()
      ctx.fillStyle = INK
      ctx.fillText(s, x + lineLen + 4, y + 1)
      x += lineLen + 4 + widths[i] + 7.5
    })
    ctx.restore()
  }
}

function makePanel(id, cfg) {
  return new Chart(document.getElementById(id), {
    type: "line",
    data: { datasets: cfg.datasets },
    options: {
      responsive: false,
      animation: false,
      devicePixelRatio: 1,
      events: [],
      layout: { padding: { left: 0, right: 2, top: cfg.padTop, bottom: 0 } },
      plugins: {
        legend: { display: false },
        tooltip: { enabled: false },
        title: cfg.title || { display: false },
        decor: { yExp: cfg.yExp, xExp: cfg.xExp }
      },
      scales: {
        x: {
          type: "logarithmic",
          min: freqRange[0],
          max: freqRange[1],
          grid: { display: false },
          border: { display: false },
          ticks: { display: false },
          title: cfg.xTitle || { display: false },
          afterFit: (s) => { s.height = cfg.xHeight }
        },
        y: {
          type: "logarithmic",
          min: cfg.range[0],
          max: cfg.range[1],
          grid: { display: false },
          border: { display: false },
          ticks: { display: false },
          title: {
            display: true,
            text: cfg.yTitle,
            color: INK,
            font: { family: FONT, size: 30, lineHeight: 1.4 },
            padding: { top: 3.6, bottom: 0 }
          },
          afterFit: (s) => { s.width = 137 }
        }
      }
    },
    plugins: [decor]
  })
}

makePanel("phaseChart", {
  datasets: stationSets([phase06, phase07, phase08, phase09]),
  range: phaseRange,
  yExp: phaseTickExp,
  yTitle: ["Phase Power", "[m]"],
  padTop: 0,
  xHeight: 9,
  title: {
    display: true,
    text: "18:28-18:51",
    color: INK,
    fullSize: false,
    font: { family: FONT, size: 28, weight: "normal", lineHeight: 1.2 },
    padding: { top: 6.5, bottom: 1.9 }
  }
})

makePanel("iflcChart", {
  datasets: stationSets([iflc06, iflc07, iflc08, iflc09]),
  range: iflcRange,
  yExp: iflcTickExp,
  yTitle: ["IFLC Power", "[m]"],
  padTop: 13,
  xHeight: 10
})

makePanel("ampChart", {
  datasets: stationSets([amp06, amp07, amp08, amp09]).concat([
    refLine(refSpanHz, refUpperLevel, [9, 6]),
    refLine(refSpanHz, refLowerLevel, [9, 6]),
    refLine(refSpanHz, refSlopePower, [9, 6]),
    refLine([cornerHz[0], cornerHz[0]], ampRange, [2, 3]),
    refLine([cornerHz[1], cornerHz[1]], ampRange, [2, 3])
  ]),
  range: ampRange,
  yExp: ampTickExp,
  xExp: xTickExp,
  yTitle: ["Amplitude Power", "[Arbitrary units]"],
  padTop: 14,
  xHeight: 87,
  xTitle: {
    display: true,
    text: "Frequency(Hz)",
    color: INK,
    font: { family: FONT, size: 29, lineHeight: 1.2 },
    padding: { top: 0, bottom: 6 }
  }
})
</script>
</body>
</html>
